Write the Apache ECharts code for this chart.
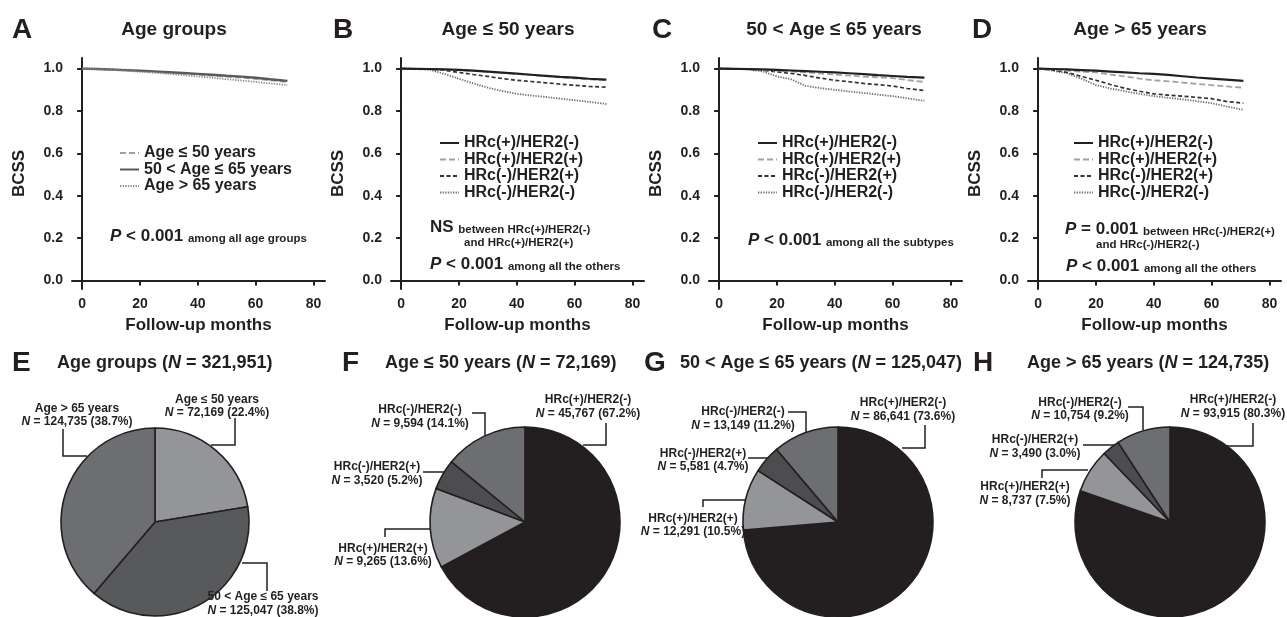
<!DOCTYPE html>
<html><head><meta charset="utf-8">
<script src="https://cdn.jsdelivr.net/npm/echarts@6/dist/echarts.min.js"></script>
<style>html,body{margin:0;padding:0;background:#fff}#c{width:1287px;height:617px}</style>
</head><body><div id="c"></div><script>
// ---------------- DATA ----------------
const months = [0, 5, 10, 15, 20, 25, 30, 35, 40, 45, 50, 55, 60, 65, 71];
const ageGroups = ['Age ≤ 50 years', '50 < Age ≤ 65 years', 'Age > 65 years'];
const subtypes = ['HRc(+)/HER2(-)', 'HRc(+)/HER2(+)', 'HRc(-)/HER2(+)', 'HRc(-)/HER2(-)'];

// Panel A: BCSS by age group
const survA_le50  = [1.0, .998, .995, .992, .989, .985, .980, .976, .972, .967, .962, .957, .952, .945, .937];
const survA_50_65 = [1.0, .998, .996, .993, .990, .987, .983, .979, .975, .971, .966, .962, .957, .950, .942];
const survA_gt65  = [1.0, .997, .994, .990, .985, .980, .975, .969, .963, .957, .950, .944, .937, .930, .922];
// Panel B: Age <= 50
const survB_pn = [1.0, .999, .998, .996, .994, .990, .986, .981, .976, .971, .966, .961, .957, .952, .948];
const survB_pp = [1.0, .999, .998, .995, .993, .989, .985, .980, .975, .970, .965, .959, .954, .949, .945];
const survB_np = [1.0, .999, .997, .992, .982, .972, .963, .953, .945, .939, .933, .927, .921, .916, .912];
const survB_nn = [1.0, .998, .994, .975, .952, .930, .910, .894, .881, .873, .866, .858, .851, .843, .833];
// Panel C: 50 < Age <= 65
const survC_pn = [1.0, .999, .998, .996, .994, .991, .988, .985, .982, .978, .974, .969, .965, .961, .957];
const survC_pp = [1.0, .999, .997, .994, .990, .986, .982, .977, .972, .967, .962, .959, .955, .946, .937];
const survC_np = [1.0, .999, .997, .992, .985, .977, .967, .955, .945, .938, .930, .924, .918, .906, .897];
const survC_nn = [1.0, .999, .995, .987, .963, .949, .918, .908, .900, .892, .885, .877, .870, .860, .848];
// Panel D: Age > 65
const survD_pn = [1.0, .998, .996, .993, .990, .986, .982, .978, .975, .970, .964, .958, .953, .948, .942];
const survD_pp = [1.0, .996, .990, .986, .982, .972, .963, .953, .945, .940, .934, .928, .922, .916, .910];
const survD_np = [1.0, .993, .982, .963, .945, .925, .907, .893, .881, .875, .870, .864, .858, .845, .837];
const survD_nn = [1.0, .990, .978, .952, .922, .906, .893, .881, .870, .862, .855, .846, .837, .822, .806];

const xTicks = [0, 20, 40, 60, 80];
const yTicks = [0, 0.2, 0.4, 0.6, 0.8, 1.0];

// Pie data (counts, percentages)
const pieE_counts = [72169, 125047, 124735];
const pieE_pct = [22.4, 38.8, 38.7];
const pieF_counts = [45767, 9265, 3520, 9594];
const pieF_pct = [67.2, 13.6, 5.2, 14.1];
const pieG_counts = [86641, 12291, 5581, 13149];
const pieG_pct = [73.6, 10.5, 4.7, 11.2];
const pieH_counts = [93915, 8737, 3490, 10754];
const pieH_pct = [80.3, 7.5, 3.0, 9.2];

// ---------------- STYLE / LAYOUT ----------------
const INK = '#231f20';
const FONT = '"Liberation Sans", Arial, Helvetica, sans-serif';
const subStyles = [
  {color: INK, type: 'solid', width: 2.2},
  {color: '#a2a2a2', type: [6, 3], width: 1.8},
  {color: '#333333', type: [4, 2.5], width: 1.7},
  {color: '#6e6e6e', type: [1.3, 1.3], width: 1.8}
];
const ageStyles = [
  {color: '#a2a2a2', type: [6, 3], width: 1.8},
  {color: '#58595b', type: 'solid', width: 2.4},
  {color: '#8a8a8a', type: [1.3, 1.3], width: 1.8}
];
const gridLefts = [72, 391, 709, 1028];
const legendLefts = [119, 439, 757, 1073];
const legendTops = [145, 135, 135, 135];

function pairs(vals) { return months.map((m, i) => [m, vals[i]]); }
const fmtN = n => n.toLocaleString('en-US');

const grids = [], xAxes = [], yAxes = [], series = [], legends = [];
gridLefts.forEach((l, gi) => {
  grids.push({left: l, top: 58, width: 253, height: 231, outerBoundsMode: 'none', containLabel: false});
  xAxes.push({
    type: 'value', gridIndex: gi, min: -3.5, max: 84,
    name: 'Follow-up months', nameLocation: 'middle', nameGap: 28,
    nameTextStyle: {fontFamily: FONT, fontWeight: 'bold', fontSize: 17, color: INK},
    axisLine: {show: true, lineStyle: {color: INK, width: 2}},
    axisTick: {show: true, length: 5, lineStyle: {color: INK, width: 2}, customValues: xTicks},
    axisLabel: {customValues: xTicks, margin: 8, fontFamily: FONT, fontWeight: 'bold', fontSize: 14, color: INK},
    splitLine: {show: false}
  });
  yAxes.push({
    type: 'value', gridIndex: gi, min: -0.04, max: 1.05,
    name: 'BCSS', nameLocation: 'middle', nameGap: 44,
    nameTextStyle: {fontFamily: FONT, fontWeight: 'bold', fontSize: 17, color: INK},
    axisLine: {show: true, lineStyle: {color: INK, width: 2}},
    axisTick: {show: true, length: 5, lineStyle: {color: INK, width: 2}, customValues: yTicks},
    axisLabel: {customValues: yTicks, margin: 9, fontFamily: FONT, fontWeight: 'bold', fontSize: 14, color: INK,
      formatter: v => v.toFixed(1)},
    splitLine: {show: false}
  });
});

function addLine(gi, name, vals, st, z) {
  series.push({
    type: 'line', name: name, xAxisIndex: gi, yAxisIndex: gi, data: pairs(vals),
    symbol: 'none', showSymbol: false, z: z,
    lineStyle: {color: st.color, type: st.type, width: st.width},
    itemStyle: {color: st.color}, emphasis: {disabled: true}, animation: false
  });
}
const ageA = [survA_le50, survA_50_65, survA_gt65];
[2, 0, 1].forEach(k => addLine(0, ageGroups[k], ageA[k], ageStyles[k], 2 + k));
const subSets = [
  [survB_pn, survB_pp, survB_np, survB_nn],
  [survC_pn, survC_pp, survC_np, survC_nn],
  [survD_pn, survD_pp, survD_np, survD_nn]
];
subSets.forEach((set, si) => {
  [3, 2, 1, 0].forEach(k => addLine(si + 1, subtypes[k], set[k], subStyles[k], 2 + (3 - k)));
});

gridLefts.forEach((l, gi) => {
  legends.push({
    data: gi === 0 ? ageGroups : subtypes,
    orient: 'vertical', left: legendLefts[gi], top: legendTops[gi],
    itemWidth: 19, itemHeight: 10, itemGap: 0.5, padding: 0, selectedMode: false,
    itemStyle: {opacity: 0, borderWidth: 0},
    textStyle: {fontFamily: FONT, fontWeight: 'bold', fontSize: 16, color: INK, lineHeight: 16}
  });
});

// Pie layouts (pixel positions of centres / labels / leader lines)
const pieCenters = [[155, 522], [525, 522], [838, 522], [1170, 522]];
const pieRadius = [94, 95, 95, 95];
const pieLabelLayout = [
  [ {c: [217, 406], line: [[211, 445], [235, 445], [235, 418]]},
    {c: [263, 603.5], line: [[242, 563], [267, 563], [267, 591]]},
    {c: [77, 415], line: [[87, 456], [63, 456], [63, 429]]} ],
  [ {c: [588, 406.5], line: [[583, 445], [606, 445], [606, 423]]},
    {c: [383, 555], line: [[432, 529], [385, 529], [385, 537]]},
    {c: [377, 473.5], line: [[449, 472], [436, 472], [423, 472]]},
    {c: [420, 416.5], line: [[485, 436], [485, 413], [472, 413]]} ],
  [ {c: [903, 409.5], line: [[902, 448], [925, 448], [925, 425]]},
    {c: [693, 525], line: [[753, 500], [703, 500], [703, 507]]},
    {c: [703, 460], line: [[768, 458], [758, 458], [748, 458]]},
    {c: [743, 418.5], line: [[806, 432], [806, 412], [788, 412]]} ],
  [ {c: [1233, 406.5], line: [[1227, 446], [1253, 446], [1253, 423]]},
    {c: [1025, 493.5], line: [[1088, 470], [1042, 470], [1042, 478]]},
    {c: [1035, 446.5], line: [[1118, 445], [1100, 445], [1083, 445]]},
    {c: [1080, 409], line: [[1143, 430], [1143, 407], [1128, 407]]} ]
];
const ageColors = ['#939598', '#58595b', '#6d6e71'];
const subColors = [INK, '#939598', '#4d4d4f', '#6d6e71'];
const pieSets = [
  {names: ageGroups, counts: pieE_counts, pct: pieE_pct, colors: ageColors},
  {names: subtypes, counts: pieF_counts, pct: pieF_pct, colors: subColors},
  {names: subtypes, counts: pieG_counts, pct: pieG_pct, colors: subColors},
  {names: subtypes, counts: pieH_counts, pct: pieH_pct, colors: subColors}
];
pieSets.forEach((ps, pi) => {
  series.push({
    type: 'pie', center: pieCenters[pi], radius: [0, pieRadius[pi]], startAngle: 90, clockwise: true,
    avoidLabelOverlap: false, animation: false, silent: true,
    itemStyle: {borderColor: INK, borderWidth: 1.6},
    data: ps.names.map((n, i) => ({
      name: n, value: ps.counts[i],
      itemStyle: {color: ps.colors[i]},
      label: {formatter: '{a|' + n + '}\n{n|N}{a| = ' + fmtN(ps.counts[i]) + ' (' + ps.pct[i].toFixed(1) + '%)}'}
    })),
    label: {
      show: true, position: 'outside', color: INK,
      rich: {
        a: {fontFamily: FONT, fontWeight: 'bold', fontSize: 12, color: INK, lineHeight: 13.5},
        n: {fontFamily: FONT, fontWeight: 'bold', fontStyle: 'italic', fontSize: 12, color: INK, lineHeight: 13.5}
      }
    },
    labelLine: {show: true, length: 5, length2: 5, smooth: false, lineStyle: {color: INK, width: 1.5}},
    labelLayout: function (p) {
      const L = pieLabelLayout[pi][p.dataIndex];
      return {x: L.c[0], y: L.c[1], align: 'center', verticalAlign: 'middle', labelLinePoints: L.line};
    }
  });
});

// ---------------- TEXT ANNOTATIONS ----------------
const g = [];
function txt(x, y, text, font, align, rich) {
  g.push({type: 'text', x: x, y: y, silent: true,
    style: {text: text, font: font, fill: INK, align: align || 'left', verticalAlign: 'middle', rich: rich || undefined}});
}
const letterFont = 'bold 28px ' + FONT;
[['A', 12], ['B', 333], ['C', 652], ['D', 972]].forEach(([t, x]) => txt(x, 30, t, letterFont));
[['E', 12], ['F', 342], ['G', 644], ['H', 973]].forEach(([t, x]) => txt(x, 363, t, letterFont));
const titleFont = 'bold 19px ' + FONT;
txt(174, 30, 'Age groups', titleFont, 'center');
txt(508, 30, 'Age ≤ 50 years', titleFont, 'center');
txt(834, 30, '50 < Age ≤ 65 years', titleFont, 'center');
txt(1140, 30, 'Age > 65 years', titleFont, 'center');

const pr = {
  p: {fontFamily: FONT, fontWeight: 'bold', fontStyle: 'italic', fontSize: 17, fill: INK, verticalAlign: 'bottom', lineHeight: 20},
  b: {fontFamily: FONT, fontWeight: 'bold', fontSize: 17, fill: INK, verticalAlign: 'bottom', lineHeight: 20},
  s: {fontFamily: FONT, fontWeight: 'bold', fontSize: 11.5, fill: INK, verticalAlign: 'bottom', lineHeight: 18},
  t: {fontFamily: FONT, fontWeight: 'bold', fontSize: 18, fill: INK},
  ti: {fontFamily: FONT, fontWeight: 'bold', fontStyle: 'italic', fontSize: 18, fill: INK}
};
txt(110, 235, '{p|P}{b| < 0.001 }{s|among all age groups}', 'bold 17px ' + FONT, 'left', pr);
txt(430, 226, '{b|NS }{s|between HRc(+)/HER2(-)}', 'bold 17px ' + FONT, 'left', pr);
txt(464, 240, '{s|and HRc(+)/HER2(+)}', 'bold 11.5px ' + FONT, 'left', pr);
txt(430, 263, '{p|P}{b| < 0.001 }{s|among all the others}', 'bold 17px ' + FONT, 'left', pr);
txt(748, 239, '{p|P}{b| < 0.001 }{s|among all the subtypes}', 'bold 17px ' + FONT, 'left', pr);
txt(1065, 228, '{p|P}{b| = 0.001 }{s|between HRc(-)/HER2(+)}', 'bold 17px ' + FONT, 'left', pr);
txt(1096, 242, '{s|and HRc(-)/HER2(-)}', 'bold 11.5px ' + FONT, 'left', pr);
txt(1066, 265, '{p|P}{b| < 0.001 }{s|among all the others}', 'bold 17px ' + FONT, 'left', pr);

txt(57, 363, '{t|Age groups (}{ti|N}{t| = 321,951)}', 'bold 18px ' + FONT, 'left', pr);
txt(385, 363, '{t|Age ≤ 50 years (}{ti|N}{t| = 72,169)}', 'bold 18px ' + FONT, 'left', pr);
txt(680, 363, '{t|50 < Age ≤ 65 years (}{ti|N}{t| = 125,047)}', 'bold 18px ' + FONT, 'left', pr);
txt(1027, 363, '{t|Age > 65 years (}{ti|N}{t| = 124,735)}', 'bold 18px ' + FONT, 'left', pr);

const chart = echarts.init(document.getElementById('c'), null, {renderer: 'canvas'});
chart.setOption({
  backgroundColor: '#ffffff', animation: false,
  grid: grids, xAxis: xAxes, yAxis: yAxes, legend: legends, series: series, graphic: g,
  tooltip: {show: false}
});
</script></body></html>
